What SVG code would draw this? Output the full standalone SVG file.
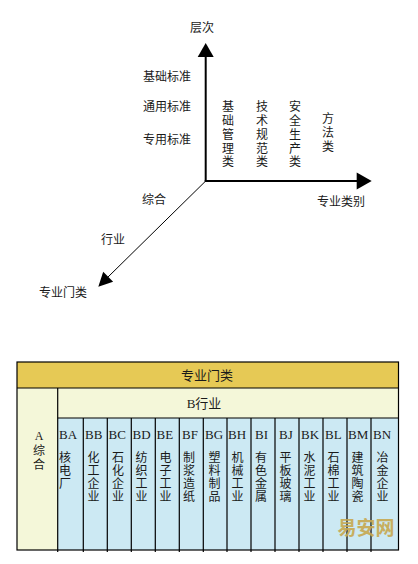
<svg xmlns="http://www.w3.org/2000/svg" width="418" height="564" viewBox="0 0 418 564">
<style>
text{font-family:"Liberation Serif","Noto Sans CJK SC",serif;fill:#1a1a1a}
.s{font-size:12px}
.t{font-size:13px}
.c{font-size:12px}
.m{text-anchor:middle}
.ax{stroke:#000;stroke-width:2;fill:none}
.dg{stroke:#000;stroke-width:1;fill:none}
.g line{stroke:#000;stroke-width:1.2}
</style>
<rect width="418" height="564" fill="#fff"/>
<g id="connectors">
<line class="ax" x1="205.7" y1="181" x2="205.7" y2="55"/>
<polygon points="205.7,43 197.7,57 213.7,57" fill="#000"/>
<line class="ax" x1="204.7" y1="181" x2="358" y2="181"/>
<polygon points="371.7,181 356.7,172.5 356.7,189.5" fill="#000"/>
<line class="dg" x1="205.7" y1="181" x2="107" y2="278"/>
<polygon points="98.3,286.7 103.2,271.8 113.1,281.7" fill="#000"/>
</g>
<g id="axis-labels">
<text class="s m" x="202" y="32">层次</text>
<text class="s m" x="167" y="81">基础标准</text>
<text class="s m" x="167" y="111">通用标准</text>
<text class="s m" x="167" y="144">专用标准</text>
<text class="s m" x="341" y="206">专业类别</text>
<text class="s m" x="154" y="204">综合</text>
<text class="s m" x="113" y="244">行业</text>
<text class="s m" x="63" y="297">专业门类</text>
</g>
<g id="categories">
<text class="s m"><tspan x="228" y="111">基</tspan><tspan x="228" y="125">础</tspan><tspan x="228" y="139">管</tspan><tspan x="228" y="152.5">理</tspan><tspan x="228" y="166">类</tspan></text>
<text class="s m"><tspan x="262" y="111">技</tspan><tspan x="262" y="125">术</tspan><tspan x="262" y="139">规</tspan><tspan x="262" y="152.5">范</tspan><tspan x="262" y="166">类</tspan></text>
<text class="s m"><tspan x="295" y="111">安</tspan><tspan x="295" y="125">全</tspan><tspan x="295" y="139">生</tspan><tspan x="295" y="152.5">产</tspan><tspan x="295" y="166">类</tspan></text>
<text class="s m"><tspan x="328" y="123">方</tspan><tspan x="328" y="137">法</tspan><tspan x="328" y="151">类</tspan></text>
</g>
<g id="table">
<rect x="17" y="362" width="381.5" height="188" fill="#f4f7d9"/>
<rect x="17" y="362" width="381.5" height="26" fill="#e6c955"/>
<rect x="57.7" y="418" width="340.8" height="132" fill="#cce9f3"/>
<rect x="17" y="362" width="381.5" height="188" fill="none" stroke="#000" stroke-width="1.2"/>
<g class="g">
<line x1="17" y1="388" x2="398.5" y2="388"/>
<line x1="57.7" y1="418" x2="398.5" y2="418"/>
<line x1="57.7" y1="388" x2="57.7" y2="552"/>
<line x1="83.3" y1="418" x2="83.3" y2="552"/>
<line x1="107.3" y1="418" x2="107.3" y2="552"/>
<line x1="131.3" y1="418" x2="131.3" y2="552"/>
<line x1="155.3" y1="418" x2="155.3" y2="552"/>
<line x1="179.3" y1="418" x2="179.3" y2="552"/>
<line x1="203.3" y1="418" x2="203.3" y2="552"/>
<line x1="227" y1="418" x2="227" y2="552"/>
<line x1="251" y1="418" x2="251" y2="552"/>
<line x1="275" y1="418" x2="275" y2="552"/>
<line x1="299" y1="418" x2="299" y2="552"/>
<line x1="323" y1="418" x2="323" y2="552"/>
<line x1="347" y1="418" x2="347" y2="552"/>
<line x1="371" y1="418" x2="371" y2="552"/>
</g>
<text class="t m" x="207" y="380">专业门类</text>
<text class="t m" x="204" y="408">B行业</text>
<text class="c m"><tspan x="39" y="440">A</tspan><tspan x="39" y="455">综</tspan><tspan x="39" y="469">合</tspan></text>
</g>
<g id="columns">
<text class="t" x="59" y="439">BA</text><text class="c"><tspan x="59" y="462">核</tspan><tspan x="59" y="475">电</tspan><tspan x="59" y="488">厂</tspan></text>
<text class="t" x="85" y="439">BB</text><text class="c"><tspan x="87.5" y="462">化</tspan><tspan x="87.5" y="475">工</tspan><tspan x="87.5" y="488">企</tspan><tspan x="87.5" y="501">业</tspan></text>
<text class="t" x="108.5" y="439">BC</text><text class="c"><tspan x="112" y="462">石</tspan><tspan x="112" y="475">化</tspan><tspan x="112" y="488">企</tspan><tspan x="112" y="501">业</tspan></text>
<text class="t" x="132.5" y="439">BD</text><text class="c"><tspan x="135.5" y="462">纺</tspan><tspan x="135.5" y="475">织</tspan><tspan x="135.5" y="488">工</tspan><tspan x="135.5" y="501">业</tspan></text>
<text class="t" x="156.5" y="439">BE</text><text class="c"><tspan x="159.5" y="462">电</tspan><tspan x="159.5" y="475">子</tspan><tspan x="159.5" y="488">工</tspan><tspan x="159.5" y="501">业</tspan></text>
<text class="t" x="182" y="439">BF</text><text class="c"><tspan x="183" y="462">制</tspan><tspan x="183" y="475">浆</tspan><tspan x="183" y="488">造</tspan><tspan x="183" y="501">纸</tspan></text>
<text class="t" x="205" y="439">BG</text><text class="c"><tspan x="208.5" y="462">塑</tspan><tspan x="208.5" y="475">料</tspan><tspan x="208.5" y="488">制</tspan><tspan x="208.5" y="501">品</tspan></text>
<text class="t" x="228" y="439">BH</text><text class="c"><tspan x="231.5" y="462">机</tspan><tspan x="231.5" y="475">械</tspan><tspan x="231.5" y="488">工</tspan><tspan x="231.5" y="501">业</tspan></text>
<text class="t" x="255" y="439">BI</text><text class="c"><tspan x="255" y="462">有</tspan><tspan x="255" y="475">色</tspan><tspan x="255" y="488">金</tspan><tspan x="255" y="501">属</tspan></text>
<text class="t" x="279" y="439">BJ</text><text class="c"><tspan x="279.5" y="462">平</tspan><tspan x="279.5" y="475">板</tspan><tspan x="279.5" y="488">玻</tspan><tspan x="279.5" y="501">璃</tspan></text>
<text class="t" x="301" y="439">BK</text><text class="c"><tspan x="303.5" y="462">水</tspan><tspan x="303.5" y="475">泥</tspan><tspan x="303.5" y="488">工</tspan><tspan x="303.5" y="501">业</tspan></text>
<text class="t" x="325" y="439">BL</text><text class="c"><tspan x="327.5" y="462">石</tspan><tspan x="327.5" y="475">棉</tspan><tspan x="327.5" y="488">工</tspan><tspan x="327.5" y="501">业</tspan></text>
<text class="t" x="348" y="439">BM</text><text class="c"><tspan x="351.5" y="462">建</tspan><tspan x="351.5" y="475">筑</tspan><tspan x="351.5" y="488">陶</tspan><tspan x="351.5" y="501">瓷</tspan></text>
<text class="t" x="373" y="439">BN</text><text class="c"><tspan x="376.5" y="462">冶</tspan><tspan x="376.5" y="475">金</tspan><tspan x="376.5" y="488">企</tspan><tspan x="376.5" y="501">业</tspan></text>
</g>
<text x="366" y="535" style="font-family:'Noto Sans CJK SC',sans-serif;font-size:19px;font-weight:bold;fill:#c7a850;text-anchor:middle" opacity="0.9">易安网</text>
</svg>
